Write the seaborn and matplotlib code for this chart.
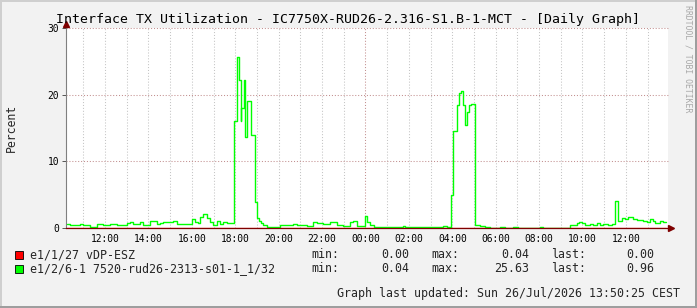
import numpy as np
import pandas as pd
import matplotlib
matplotlib.use("Agg")
import matplotlib.pyplot as plt
from matplotlib.patches import Rectangle
import seaborn as sns

# ---------------- data (hours since 00:00 of first day, step starts) ----------------
green_t = [10.23, 10.39, 10.85, 11.00, 11.31, 11.62, 11.92, 12.23, 12.54, 13.00,
           13.15, 13.30, 13.61, 13.77, 14.07, 14.38, 14.53, 14.69, 14.84, 15.15,
           15.30, 15.99, 16.15, 16.30, 16.38, 16.53, 16.68, 16.84, 16.99, 17.15,
           17.30, 17.45, 17.61, 17.945, 18.07, 18.16, 18.25, 18.28, 18.38, 18.47,
           18.53, 18.71, 18.90, 18.99, 19.08, 19.17, 19.30, 19.45, 20.06, 20.68,
           20.83, 21.29, 21.60, 21.75, 22.06, 22.37, 22.68, 22.98, 23.29, 23.44,
           23.60, 23.98, 24.06, 24.21, 24.37, 25.75, 25.82, 27.59, 27.75, 27.96,
           28.02, 28.21, 28.30, 28.39, 28.48, 28.57, 28.67, 28.76, 28.85, 29.04,
           29.28, 29.51, 29.74, 30.20, 30.43, 30.81, 31.04, 32.04, 32.20, 33.43,
           33.73, 33.86, 33.96, 34.12, 34.35, 34.50, 34.66, 34.81, 34.96, 35.19,
           35.35, 35.50, 35.65, 35.81, 35.96, 36.11, 36.34, 36.50, 36.81, 36.96,
           37.11, 37.24, 37.34, 37.57, 37.73, 37.85]
green_v = [0.6, 0.4, 0.6, 0.4, 0.2, 0.6, 0.5, 0.6, 0.4, 0.7,
           0.9, 0.6, 0.85, 0.4, 1.0, 0.6, 0.75, 0.9, 0.85, 1.0,
           0.6, 1.35, 0.9, 0.75, 1.6, 2.1, 1.5, 0.85, 0.4, 1.0,
           0.6, 0.9, 0.75, 16.0, 25.63, 22.2, 16.0, 18.0, 22.2, 13.7,
           19.0, 14.0, 3.9, 1.5, 1.0, 0.75, 0.4, 0.2, 0.4, 0.6,
           0.5, 0.25, 0.9, 0.7, 0.6, 0.9, 0.5, 0.25, 0.9, 1.1,
           0.25, 1.75, 0.9, 0.4, 0.1, 0.25, 0.1, 0.35, 0.1, 5.0,
           14.5, 18.5, 20.2, 20.5, 18.5, 15.4, 17.4, 18.5, 18.6, 0.4,
           0.3, 0.1, 0.04, 0.1, 0.04, 0.1, 0.04, 0.1, 0.04, 0.4,
           0.7, 0.9, 0.7, 0.5, 0.6, 0.5, 0.7, 0.5, 0.6, 0.4,
           0.6, 4.1, 1.1, 1.5, 1.4, 1.7, 1.4, 1.2, 1.1, 0.9,
           1.4, 1.1, 0.8, 1.0, 0.96, 0.96]

red_t = [10.23, 20.00, 20.10, 37.85]
red_v = [0.0, 0.04, 0.0, 0.0]

series_names = ["e1/1/27 vDP-ESZ", "e1/2/6-1 7520-rud26-2313-s01-1_1/32"]
series_colors = ["#FF0000", "#00FF00"]

tick_hours = [12, 14, 16, 18, 20, 22, 24, 26, 28, 30, 32, 34, 36]
tick_labels = ["12:00", "14:00", "16:00", "18:00", "20:00", "22:00", "00:00",
               "02:00", "04:00", "06:00", "08:00", "10:00", "12:00"]
y_ticks = [0, 10, 20, 30]

title = "Interface TX Utilization - IC7750X-RUD26-2.316-S1.B-1-MCT - [Daily Graph]"
footer = "Graph last updated: Sun 26/Jul/2026 13:50:25 CEST"
x_start, x_end = 10.2, 37.94

# ---------------- style ----------------
sns.set_theme(style="white")
plt.rcParams["font.family"] = ["DejaVu Sans Mono"]
BG = "#F2F2F2"
W, H = 697, 308

fig = plt.figure(figsize=(W / 100, H / 100), dpi=100, facecolor=BG)
ax = fig.add_axes([66 / W, (H - 228) / H, (668 - 66) / W, 200 / H])
ax.set_facecolor("white")

def fx(px):
    return px / W

def fy(py):
    return 1 - py / H

# grid
for h in range(11, 38):
    col = "#C28F8F" if h == 24 else "#C4C4C4"
    ax.axvline(h, color=col, lw=0.75, ls=(0, (1, 1.8)), zorder=1)
for yv in [10, 20, 30]:
    ax.axhline(yv, color="#C28F8F", lw=0.75, ls=(0, (1, 1.8)), zorder=1, clip_on=False)

df_g = pd.DataFrame({"t": green_t, "v": green_v})
df_r = pd.DataFrame({"t": red_t, "v": red_v})
sns.lineplot(data=df_r, x="t", y="v", ax=ax, color=series_colors[0], lw=0.9,
             drawstyle="steps-post", zorder=3)
sns.lineplot(data=df_g, x="t", y="v", ax=ax, color=series_colors[1], lw=1.0,
             drawstyle="steps-post", zorder=4)

ax.set_xlim(x_start, x_end)
ax.set_ylim(0, 30)
ax.set_xlabel("")
ax.set_ylabel("")
ax.set_xticks(tick_hours)
ax.set_xticklabels(tick_labels)
ax.set_yticks(y_ticks)
ax.set_yticklabels([str(v) for v in y_ticks])
ax.tick_params(axis="x", length=0, pad=4.2, labelsize=6.9, colors="black")
ax.tick_params(axis="y", length=3, width=0.7, pad=2, labelsize=6.9, colors="#555555",
               labelcolor="black", left=True)

for s in ["top", "right"]:
    ax.spines[s].set_visible(False)
ax.spines["left"].set_color("#808080")
ax.spines["left"].set_linewidth(0.8)
ax.spines["bottom"].set_color("#7F0000")
ax.spines["bottom"].set_linewidth(0.9)
ax.spines["bottom"].set_zorder(5)

# arrows
ax.plot([x_start, x_start], [30, 30.6], color="#808080", lw=0.8, clip_on=False)
ax.plot([x_start], [30.55], marker="^", color="#7F0000", ms=4, clip_on=False, zorder=6)
ax.plot([x_end, x_end + 0.05], [0, 0], color="#7F0000", lw=0.9, clip_on=False)
ax.plot([x_end + 0.12], [0], marker=">", color="#7F0000", ms=4, clip_on=False, zorder=6)

# texts
fig.text(fx(347.5), fy(22.5), title, ha="center", va="baseline", fontsize=9.5, color="black")
fig.text(fx(11), fy(128), "Percent", rotation=90, ha="center", va="center", fontsize=8.3)
fig.text(fx(688), fy(5), "RRDTOOL / TOBI OETIKER", rotation=-90, ha="center", va="top",
         fontsize=5.9, color="#A8A8A8")

# legend
rows = [(red_v, 258.5), (green_v, 272.5)]
for i, (vals, base) in enumerate(rows):
    fig.patches.append(Rectangle((fx(15), fy(base)), fx(8), 8 / H, transform=fig.transFigure,
                                 facecolor=series_colors[i], edgecolor="black", lw=0.6))
    fig.text(fx(30), fy(base), series_names[i], ha="left", va="baseline", fontsize=8.4)
    fig.text(fx(311.7), fy(base), "min:", ha="left", va="baseline", fontsize=8.4)
    fig.text(fx(409.3), fy(base), f"{min(vals):.2f}", ha="right", va="baseline", fontsize=8.4)
    fig.text(fx(431), fy(base), "max:", ha="left", va="baseline", fontsize=8.4)
    fig.text(fx(529), fy(base), f"{max(vals):.2f}", ha="right", va="baseline", fontsize=8.4)
    fig.text(fx(550.7), fy(base), "last:", ha="left", va="baseline", fontsize=8.4)
    fig.text(fx(654), fy(base), f"{vals[-1]:.2f}", ha="right", va="baseline", fontsize=8.4)

fig.text(fx(680), fy(297), footer, ha="right", va="baseline", fontsize=8.4)

# 3D frame
fig.patches.append(Rectangle((0, 0), 2 / W, 1, transform=fig.transFigure, color="#CFCFCF", lw=0))
fig.patches.append(Rectangle((0, 1 - 2 / H), 1, 2 / H, transform=fig.transFigure, color="#CFCFCF", lw=0))
fig.patches.append(Rectangle((1 - 2 / W, 0), 2 / W, 1, transform=fig.transFigure, color="#9E9E9E", lw=0))
fig.patches.append(Rectangle((0, 0), 1, 2 / H, transform=fig.transFigure, color="#9E9E9E", lw=0))

fig.savefig("out.png", dpi=100, facecolor=BG)
